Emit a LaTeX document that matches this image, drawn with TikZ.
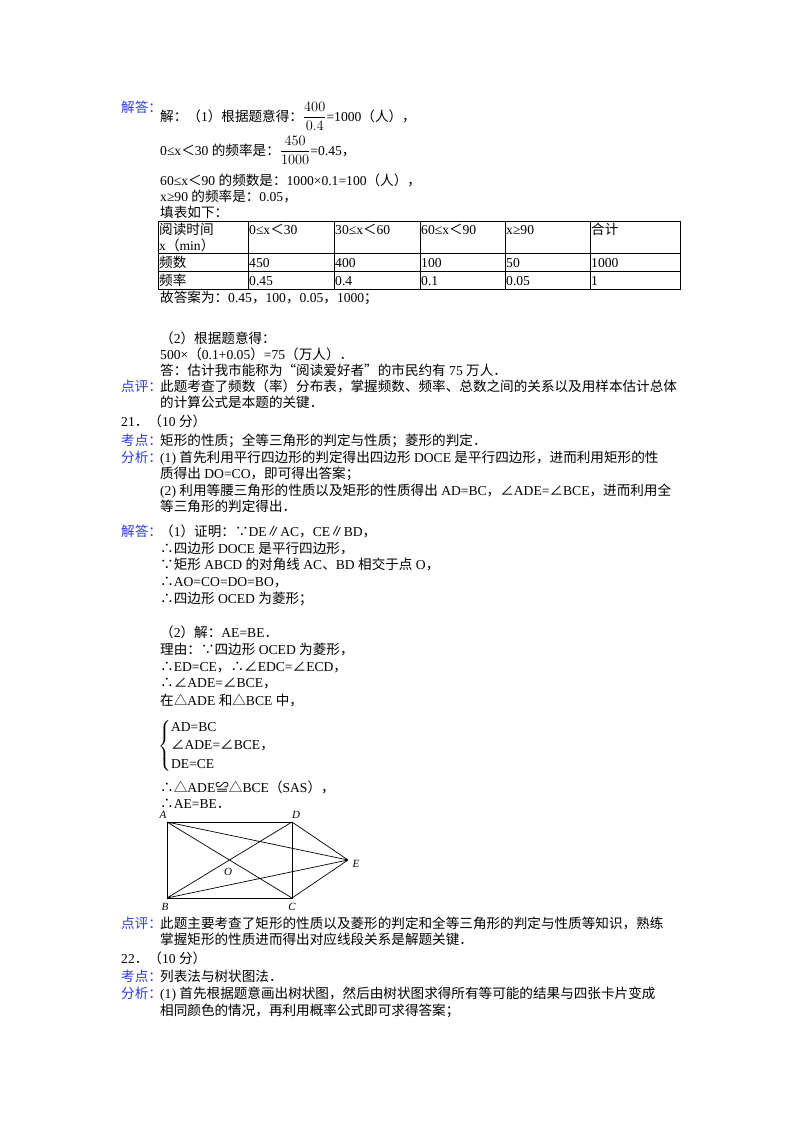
\documentclass[tikz,border=0pt]{standalone}
\usepackage{amsmath}
\usepackage{fontspec}
\setmainfont{Liberation Serif}
\newfontfamily\cjk{Noto Sans CJK SC}
\XeTeXinterchartokenstate=1
\newXeTeXintercharclass\zhclass
\newcount\cc
\cc="4E00 \loop \XeTeXcharclass\cc=\zhclass \advance\cc by 1 \ifnum\cc<"A000 \repeat
\cc="FF00 \loop \XeTeXcharclass\cc=\zhclass \advance\cc by 1 \ifnum\cc<"FFF0 \repeat
\cc="3000 \loop \XeTeXcharclass\cc=\zhclass \advance\cc by 1 \ifnum\cc<"3040 \repeat
\XeTeXcharclass"2234=\zhclass \XeTeXcharclass"2235=\zhclass \XeTeXcharclass"2220=\zhclass
\XeTeXcharclass"25B3=\zhclass \XeTeXcharclass"224C=\zhclass \XeTeXcharclass"2225=\zhclass
\XeTeXcharclass"201C=\zhclass \XeTeXcharclass"201D=\zhclass
\XeTeXinterchartoks 0 \zhclass={\cjk}
\XeTeXinterchartoks 4095 \zhclass={\cjk}
\XeTeXinterchartoks \zhclass 0={\rmfamily}
\XeTeXinterchartoks \zhclass 4095={\rmfamily}
\definecolor{lblue}{RGB}{45,60,215}
\begin{document}
\begin{tikzpicture}[x=1pt,y=-1pt,
  t/.style={anchor=base west,inner sep=0pt,font=\fontsize{13.6}{16}\selectfont},
  lb/.style={t,text=lblue},
  cell/.style={anchor=base west,inner sep=0pt,font=\fontsize{13.6}{16}\selectfont},
  fig/.style={line width=0.7pt},
  pl/.style={inner sep=1pt,font=\fontsize{11}{12}\selectfont\itshape}]
\useasboundingbox (0,0) rectangle (800,1132);
% part 20 answer
\node[lb] (l1) at (121,112) {解答：};
\node[t] (a1) at (160,121) {解：（1）根据题意得：$\dfrac{400}{0.4}$=1000（人），};
\node[t] (a2) at (160,155) {0≤x＜30 的频率是：$\dfrac{450}{1000}$=0.45，};
\node[t] (a3) at (160,185) {60≤x＜90 的频数是：1000×0.1=100（人），};
\node[t] (a4) at (160,201) {x≥90 的频率是：0.05，};
\node[t] (a5) at (160,217) {填表如下：};
% table
\draw[line width=0.9pt] (158,221) rectangle (680,289);
\foreach \yy in {253,271} \draw[line width=0.9pt] (158,\yy) -- (680,\yy);
\foreach \xx in {248,334,420,505,590} \draw[line width=0.9pt] (\xx,221) -- (\xx,289);
\node[cell] (h0) at (159,234) {阅读时间};
\node[cell] (h0b) at (159,250) {x（min）};
\node[cell] (h1) at (249,234) {0≤x＜30};
\node[cell] (h2) at (335,234) {30≤x＜60};
\node[cell] (h3) at (421,234) {60≤x＜90};
\node[cell] (h4) at (506,234) {x≥90};
\node[cell] (h5) at (591,234) {合计};
\node[cell] (r10) at (159,267) {频数};
\node[cell] (r11) at (249,267) {450};
\node[cell] (r12) at (335,267) {400};
\node[cell] (r13) at (421,267) {100};
\node[cell] (r14) at (506,267) {50};
\node[cell] (r15) at (591,267) {1000};
\node[cell] (r20) at (159,285) {频率};
\node[cell] (r21) at (249,285) {0.45};
\node[cell] (r22) at (335,285) {0.4};
\node[cell] (r23) at (421,285) {0.1};
\node[cell] (r24) at (506,285) {0.05};
\node[cell] (r25) at (591,285) {1};
\node[t] (a6) at (160,302) {故答案为：0.45，100，0.05，1000；};
\node[t] (a7) at (160,343) {（2）根据题意得：};
\node[t] (a8) at (160,359) {500×（0.1+0.05）=75（万人）．};
\node[t] (a9) at (160,375) {答：估计我市能称为“阅读爱好者”的市民约有 75 万人．};
\node[lb] (l2) at (121,391) {点评：};
\node[t] (p1) at (160,391) {此题考查了频数（率）分布表，掌握频数、频率、总数之间的关系以及用样本估计总体};
\node[t] (p2) at (160,407) {的计算公式是本题的关键．};
% 21
\node[t] (q21) at (121,426) {21．（10 分）};
\node[lb] (l3) at (121,445) {考点：};
\node[t] (k1) at (160,445) {矩形的性质；全等三角形的判定与性质；菱形的判定．};
\node[lb] (l4) at (121,462) {分析：};
\node[t] (f1) at (160,462) {(1) 首先利用平行四边形的判定得出四边形 DOCE 是平行四边形，进而利用矩形的性};
\node[t] (f2) at (160,478) {质得出 DO=CO，即可得出答案；};
\node[t] (f3) at (160,495) {(2) 利用等腰三角形的性质以及矩形的性质得出 AD=BC，∠ADE=∠BCE，进而利用全};
\node[t] (f4) at (160,511) {等三角形的判定得出．};
\node[lb] (l5) at (121,536) {解答：};
\node[t] (s1) at (160,536) {（1）证明：∵DE∥AC，CE∥BD，};
\node[t] (s2) at (160,553) {∴四边形 DOCE 是平行四边形，};
\node[t] (s3) at (160,569) {∵矩形 ABCD 的对角线 AC、BD 相交于点 O，};
\node[t] (s4) at (160,586) {∴AO=CO=DO=BO，};
\node[t] (s5) at (160,603) {∴四边形 OCED 为菱形；};
\node[t] (s6) at (160,637) {（2）解：AE=BE．};
\node[t] (s7) at (160,654) {理由：∵四边形 OCED 为菱形，};
\node[t] (s8) at (160,671) {∴ED=CE，∴∠EDC=∠ECD，};
\node[t] (s9) at (160,687) {∴∠ADE=∠BCE，};
\node[t] (s10) at (160,705) {在△ADE 和△BCE 中，};
\node[anchor=west,inner sep=0pt,font=\fontsize{13.6}{16}\selectfont] (br) at (158,746)
  {$\left\{\renewcommand{\arraystretch}{1.15}\begin{array}{@{}l@{}}\hbox{AD=BC}\\\hbox{∠ADE=∠BCE，}\\\hbox{DE=CE}\end{array}\right.$};
\node[t] (s11) at (160,792) {∴△ADE≌△BCE（SAS），};
\node[t] (s12) at (160,808) {∴AE=BE．};
% figure
\coordinate (A) at (167,822); \coordinate (D) at (292,822);
\coordinate (B) at (167,898); \coordinate (C) at (292,898);
\coordinate (E) at (348,860); \coordinate (O) at (229.5,860);
\draw[fig,line width=0.9pt] (A) -- (D) -- (C) -- (B) -- cycle;
\draw[fig] (A) -- (C) (B) -- (D) (A) -- (E) (B) -- (E) (D) -- (E) (C) -- (E);
\node[pl] (nA) at (163,815) {A};
\node[pl] (nD) at (296,815) {D};
\node[pl] (nB) at (165,907) {B};
\node[pl] (nC) at (292,907) {C};
\node[pl] (nE) at (356,864) {E};
\node[pl] (nO) at (228,872) {O};
\node[lb] (l6) at (121,928) {点评：};
\node[t] (e1) at (160,928) {此题主要考查了矩形的性质以及菱形的判定和全等三角形的判定与性质等知识，熟练};
\node[t] (e2) at (160,944) {掌握矩形的性质进而得出对应线段关系是解题关键．};
% 22
\node[t] (q22) at (121,963) {22．（10 分）};
\node[lb] (l7) at (121,981) {考点：};
\node[t] (k2) at (160,981) {列表法与树状图法．};
\node[lb] (l8) at (121,998) {分析：};
\node[t] (g1) at (160,998) {(1) 首先根据题意画出树状图，然后由树状图求得所有等可能的结果与四张卡片变成};
\node[t] (g2) at (160,1015) {相同颜色的情况，再利用概率公式即可求得答案；};
\end{tikzpicture}
\end{document}
